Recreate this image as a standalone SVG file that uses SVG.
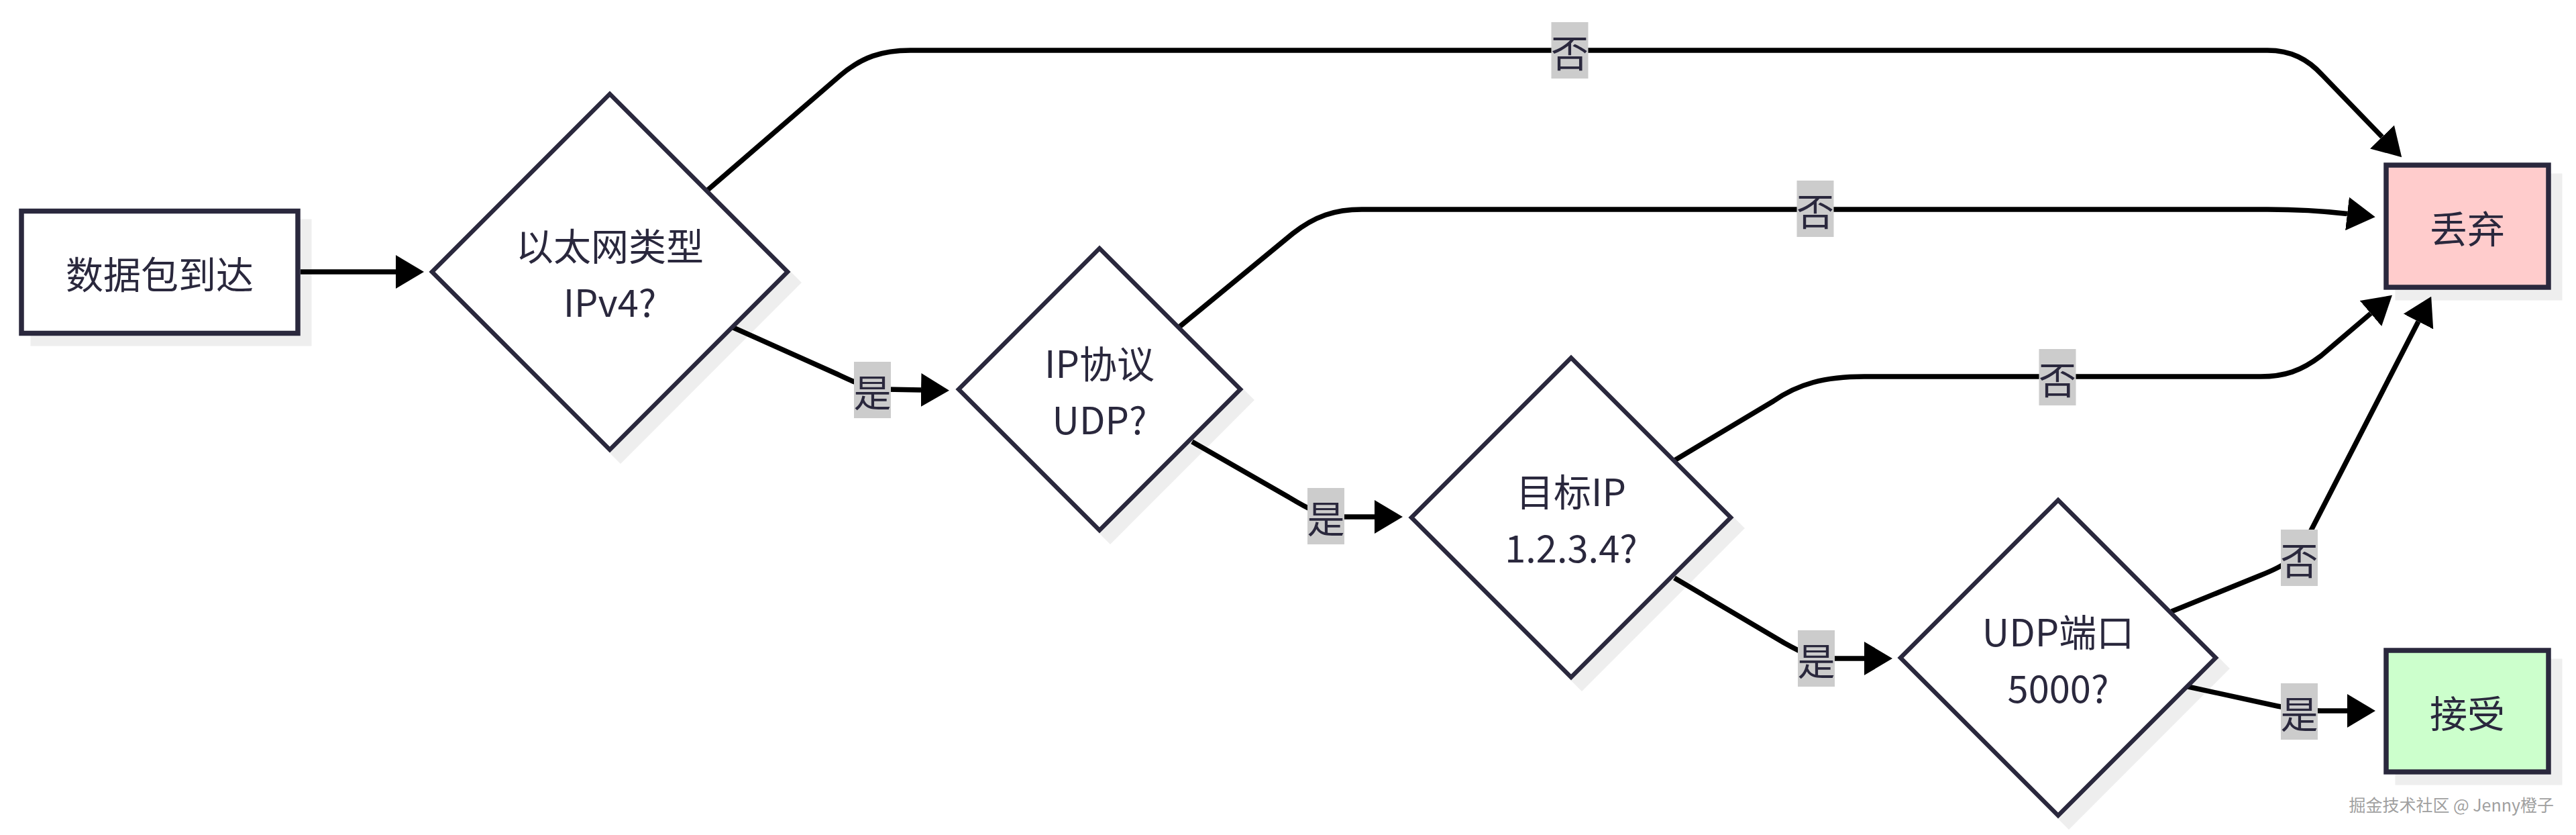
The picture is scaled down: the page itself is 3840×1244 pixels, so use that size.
<svg xmlns="http://www.w3.org/2000/svg" width="3840" height="1244" viewBox="0 0 3840 1244">
<style>
.nodebox{stroke:#2a283d;stroke-width:7.5}
.dia{fill:#ffffff;stroke:#2a283d;stroke-width:6.5}
.shadow{fill:#eeeeee;stroke:#eeeeee;stroke-width:7}
.ntext{font-family:"Noto Sans CJK SC","Noto Sans",sans-serif;font-size:56px;fill:#2a283d;text-anchor:middle;dominant-baseline:central}
.edge{fill:none;stroke:#000000;stroke-width:7.5;stroke-linejoin:round}
.lblbg{fill:#cccccc}
.ltext{font-family:"Noto Sans CJK SC","Noto Sans",sans-serif;font-size:56px;fill:#2a283d;text-anchor:middle;dominant-baseline:central}
.wm{font-family:"Noto Sans CJK SC","Liberation Sans",sans-serif;font-size:25px;fill:#a0a0a0;text-anchor:end;dominant-baseline:central}
</style>
<defs>
<marker id="arr" viewBox="0 0 42 50" refX="0" refY="25" markerWidth="42" markerHeight="50" markerUnits="userSpaceOnUse" orient="auto"><path d="M0,0 L42,25 L0,50 z" fill="#000000"/></marker>
</defs>
<rect width="3840" height="1244" fill="#ffffff"/>

<g id="shadows">
<rect class="shadow" x="49" y="330" width="412" height="182"/>
<polygon class="shadow" points="925,156 1190,421 925,686 660,421"/>
<polygon class="shadow" points="1655,386 1865,596 1655,806 1445,596"/>
<polygon class="shadow" points="2358,549 2596,787 2358,1025 2120,787"/>
<polygon class="shadow" points="3084,761 3319,996 3084,1231 2849,996"/>
<rect class="shadow" x="3574" y="262" width="242" height="182"/>
<rect class="shadow" x="3574" y="985" width="242" height="181"/>
</g>

<g id="connectors">
<path class="edge" marker-end="url(#arr)" d="M448,405 L590,405"/>
<path class="edge" marker-end="url(#arr)" d="M1093,488 L1245,556 C1275,570 1292,579 1320,580 L1373,581"/>
<path class="edge" marker-end="url(#arr)" d="M1055,283 L1253,112 C1285,85 1315,75 1357,75 L3380,75 C3415,75 3440,88 3462,112 L3551,204"/>
<path class="edge" marker-end="url(#arr)" d="M1758,487 L1927,348 C1960,322 1990,312 2030,312 L3380,312 C3430,312 3460,314 3499,318.5"/>
<path class="edge" marker-end="url(#arr)" d="M1777,658 L1920,740 C1945,755 1965,768 2000,770 L2049,770"/>
<path class="edge" marker-end="url(#arr)" d="M2496,861 L2660,958 C2685,972 2700,980 2730,981 L2779,981"/>
<path class="edge" marker-end="url(#arr)" d="M2496,686 L2643,598 C2680,572 2720,561 2779,561 L3370,561 C3405,561 3430,553 3460,530 L3534,467"/>
<path class="edge" marker-end="url(#arr)" d="M3237,911 L3370,857 C3405,843 3420,835 3440,800 L3605,479"/>
<path class="edge" marker-end="url(#arr)" d="M3257,1022 L3395,1052 C3420,1057 3440,1059 3460,1059 L3499,1059"/>
</g>

<g id="edge-labels">
<g id="label-d1-d2"><rect class="lblbg" x="1273" y="539" width="55" height="84"/><text class="ltext" x="1300.5" y="581">是</text></g>
<g id="label-d1-drop"><rect class="lblbg" x="2312.5" y="33" width="55" height="84"/><text class="ltext" x="2340" y="75">否</text></g>
<g id="label-d2-drop"><rect class="lblbg" x="2678.5" y="269" width="55" height="84"/><text class="ltext" x="2706" y="311">否</text></g>
<g id="label-d2-d3"><rect class="lblbg" x="1949" y="727" width="55" height="84"/><text class="ltext" x="1976.5" y="769">是</text></g>
<g id="label-d3-drop"><rect class="lblbg" x="3039.5" y="520" width="55" height="84"/><text class="ltext" x="3067" y="562">否</text></g>
<g id="label-d3-d4"><rect class="lblbg" x="2680" y="939" width="55" height="84"/><text class="ltext" x="2707.5" y="981">是</text></g>
<g id="label-d4-drop"><rect class="lblbg" x="3400" y="789" width="55" height="84"/><text class="ltext" x="3427.5" y="831">否</text></g>
<g id="label-d4-accept"><rect class="lblbg" x="3400" y="1018" width="55" height="84"/><text class="ltext" x="3427.5" y="1060">是</text></g>
</g>

<g id="node-arrive">
<rect class="nodebox" x="32" y="314.5" width="412" height="182" fill="#ffffff"/>
<text class="ntext" x="238" y="405">数据包到达</text>
</g>
<g id="node-ethertype">
<polygon class="dia" points="909,140 1174,405 909,670 644,405"/>
<text class="ntext" x="909" y="363">以太网类型</text>
<text class="ntext" x="909" y="447">IPv4?</text>
</g>
<g id="node-ipproto">
<polygon class="dia" points="1639,370 1849,580 1639,790 1429,580"/>
<text class="ntext" x="1639" y="538">IP协议</text>
<text class="ntext" x="1639" y="622">UDP?</text>
</g>
<g id="node-dstip">
<polygon class="dia" points="2342,533 2580,771 2342,1009 2104,771"/>
<text class="ntext" x="2342" y="729">目标IP</text>
<text class="ntext" x="2342" y="813">1.2.3.4?</text>
</g>
<g id="node-udpport">
<polygon class="dia" points="3068,745 3303,980 3068,1215 2833,980"/>
<text class="ntext" x="3068" y="938">UDP端口</text>
<text class="ntext" x="3068" y="1022">5000?</text>
</g>
<g id="node-drop">
<rect class="nodebox" x="3557" y="246" width="242" height="182" fill="#ffcccc"/>
<text class="ntext" x="3678" y="337">丢弃</text>
</g>
<g id="node-accept">
<rect class="nodebox" x="3557" y="969" width="242" height="181" fill="#ccffcc"/>
<text class="ntext" x="3678" y="1059.5">接受</text>
</g>

<text class="wm" x="3807" y="1198">掘金技术社区 @ Jenny橙子</text>
</svg>
